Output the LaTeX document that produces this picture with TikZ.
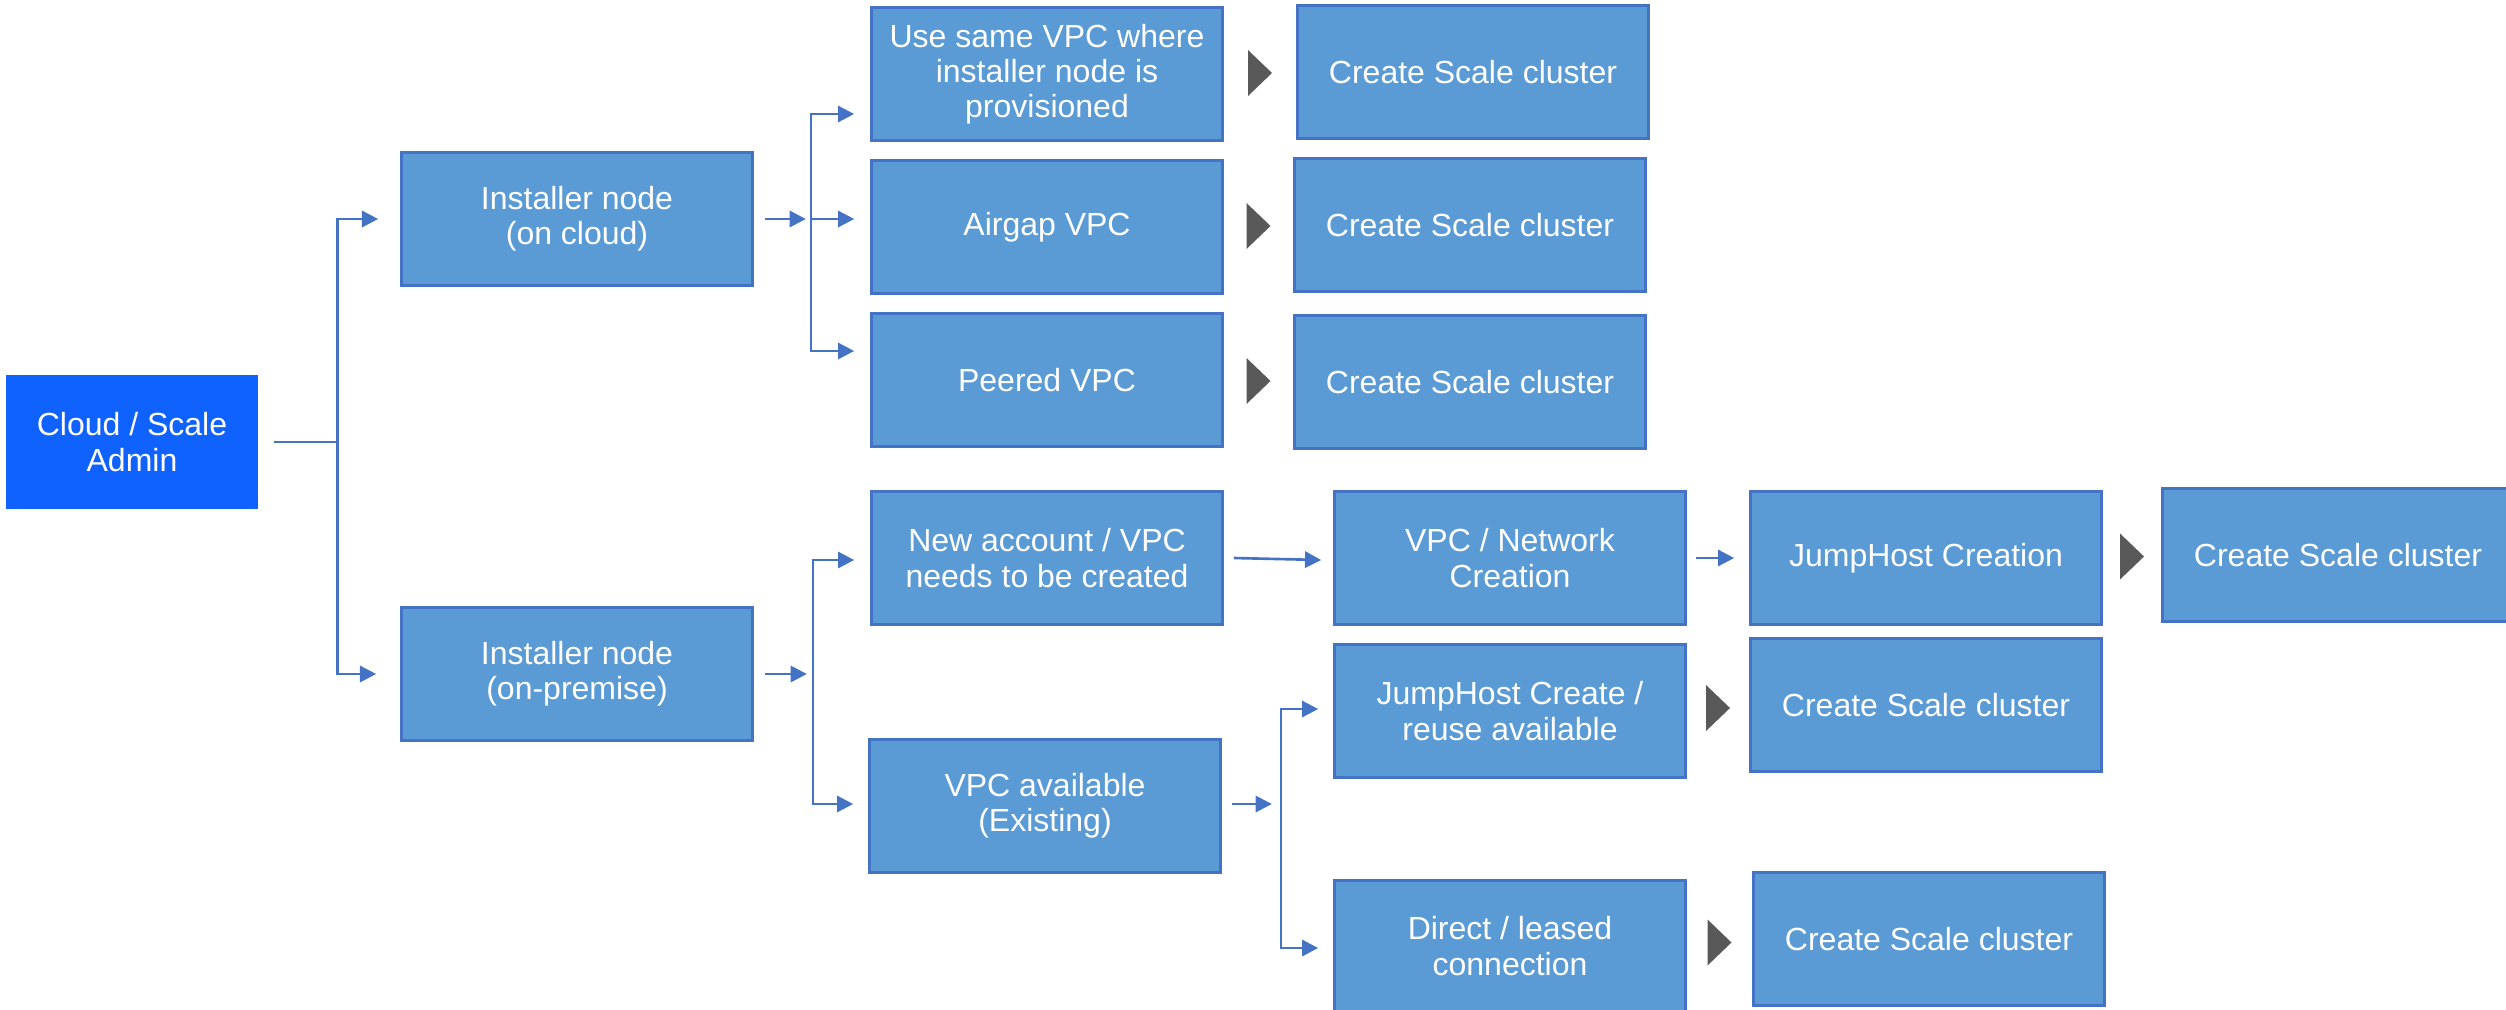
\documentclass[tikz,border=0pt]{standalone}
\usepackage{fontspec}
\setmainfont{Liberation Sans}
\usetikzlibrary{positioning}
\usetikzlibrary{calc,arrows.meta}
\definecolor{boxblue}{HTML}{5B9BD5}
\definecolor{lineblue}{HTML}{4472C4}
\definecolor{adminblue}{HTML}{0F62FE}
\definecolor{chevgray}{HTML}{595959}

\begin{document}
\begin{tikzpicture}[x=0.01cm, y=-0.01cm,
  every node/.style = {shape=rectangle, align=center, text=white,
    font=\fontsize{9.1}{10}\selectfont, inner sep=0pt},
  box/.style = {draw=lineblue, line width=0.7pt, fill=boxblue,
    minimum width=3.51cm, minimum height=1.33cm},
  adminbox/.style = {fill=adminblue, minimum width=2.51cm, minimum height=1.33cm},
  link/.style = {draw=lineblue, line width=0.75pt},
  arrow/.style = {link, -{Triangle[length=4.6pt,width=4.6pt]}},
  chevron/.style = {fill=chevgray}
  ]
  \useasboundingbox (0,0) rectangle (2506,1009);
  % start
  \node[adminbox] (admin) at (132,442) {Cloud / Scale\\Admin};
  % installer nodes
  \node[box] (oncloud) at (577,219) {Installer node\\(on cloud)};
  \node[box] (onprem) at (577,674) {Installer node\\(on-premise)};
  % cloud side
  \node[box] (samevpc) at (1047,74) {Use same VPC where\\installer node is\\provisioned};
  \node[box] (airgap) at (1047,227) {Airgap VPC};
  \node[box] (peered) at (1047,380) {Peered VPC};
  \node[box] (scale1) at (1473,72) {Create Scale cluster};
  \node[box] (scale2) at (1470,225) {Create Scale cluster};
  \node[box] (scale3) at (1470,382) {Create Scale cluster};
  % on-premise side
  \node[box] (newvpc) at (1047,558) {New account / VPC\\needs to be created};
  \node[box] (network) at (1510,558) {VPC / Network\\Creation};
  \node[box] (jumphost) at (1926,558) {JumpHost Creation};
  \node[box] (scale4) at (2338,555) {Create Scale cluster};
  \node[box] (existing) at (1045,806) {VPC available\\(Existing)};
  \node[box] (reuse) at (1510,711) {JumpHost Create /\\reuse available};
  \node[box] (scale5) at (1926,705) {Create Scale cluster};
  \node[box, minimum height=1.31cm] (direct) at (1510,946) {Direct / leased\\connection};
  \node[box] (scale6) at (1929,939) {Create Scale cluster};

  % admin fork
  \draw[link] ($(admin.east)+(16,0)$) -- ++(63,0) coordinate (fork0);
  \draw[arrow] (fork0) |- ($(oncloud.west)+(-22,0)$);
  \draw[arrow] (fork0) |- ($(onprem.west)+(-24,0)$);

  % cloud fork
  \draw[arrow] ($(oncloud.east)+(11,0)$) -- ++(41,0);
  \coordinate (fork1) at ($(oncloud.east)+(57,0)$);
  \draw[arrow] (fork1) |- ($(samevpc.west)+(-16,40)$);
  \draw[arrow] (fork1) -- ($(airgap.west)+(-16,-8)$);
  \draw[arrow] (fork1) |- ($(peered.west)+(-16,-29)$);

  % on-premise fork
  \draw[arrow] ($(onprem.east)+(11,0)$) -- ++(42,0);
  \coordinate (fork2) at ($(onprem.east)+(59,0)$);
  \draw[arrow] (fork2) |- ($(newvpc.west)+(-16,2)$);
  \draw[arrow] (fork2) |- ($(existing.west)+(-15,-2)$);

  \draw[arrow] ($(newvpc.east)+(10,0)$) -- ($(network.west)+(-12,2)$);
  \draw[arrow] ($(network.east)+(9,0)$) -- ($(jumphost.west)+(-15,0)$);

  % existing fork
  \draw[arrow] ($(existing.east)+(10,-2)$) -- ++(40,0);
  \coordinate (fork3) at ($(existing.east)+(59,0)$);
  \draw[arrow] (fork3) |- ($(reuse.west)+(-15,-2)$);
  \draw[arrow] (fork3) |- ($(direct.west)+(-15,2)$);

  % chevrons before each cluster
  \foreach \from/\to in {samevpc/scale1, airgap/scale2, peered/scale3,
      jumphost/scale4, reuse/scale5, direct/scale6}
    \fill[chevron] ($(\from.east)!0.5!(\to.west)$) ++(-12,-23) -- ++(24,23) -- ++(-24,23) -- cycle;
\end{tikzpicture}
\end{document}
